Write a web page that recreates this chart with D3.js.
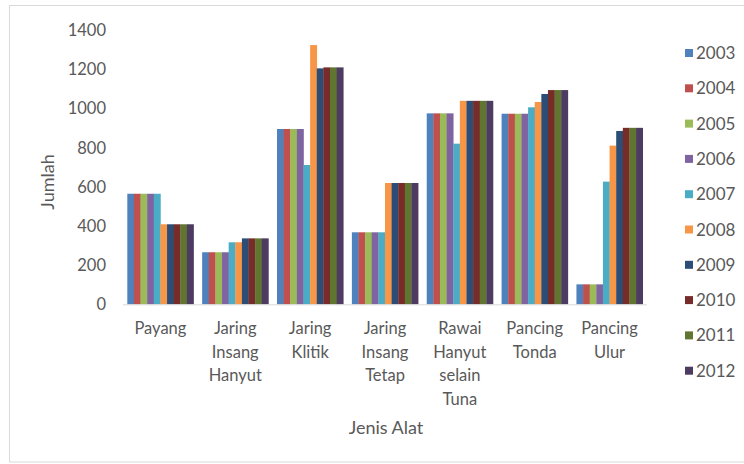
<!DOCTYPE html>
<html>
<head>
<meta charset="utf-8">
<script src="https://cdn.jsdelivr.net/npm/d3@7"></script>
<style>
  html, body { margin: 0; padding: 0; background: #fff; }
  svg { display: block; }
  text { font-family: Lato, "Open Sans", sans-serif; fill: #595959; }
</style>
</head>
<body>
<svg id="chart" width="744" height="464"></svg>
<script>
// Fishing gear types (categories), one line per array entry
const categories = [
  ["Payang"],
  ["Jaring", "Insang", "Hanyut"],
  ["Jaring", "Klitik"],
  ["Jaring", "Insang", "Tetap"],
  ["Rawai", "Hanyut", "selain", "Tuna"],
  ["Pancing", "Tonda"],
  ["Pancing", "Ulur"]
];

const years = ["2003", "2004", "2005", "2006", "2007", "2008", "2009", "2010", "2011", "2012"];

// Values per year, one entry per gear type (same order as categories)
const v2003 = [565, 266, 896, 368, 976, 974, 102];
const v2004 = [565, 266, 896, 368, 976, 974, 102];
const v2005 = [565, 266, 896, 368, 976, 974, 102];
const v2006 = [565, 266, 896, 368, 976, 974, 102];
const v2007 = [565, 317, 712, 368, 821, 1007, 627];
const v2008 = [409, 317, 1325, 620, 1040, 1034, 811];
const v2009 = [409, 337, 1206, 620, 1040, 1075, 886];
const v2010 = [409, 337, 1211, 620, 1040, 1095, 902];
const v2011 = [409, 337, 1211, 620, 1040, 1095, 902];
const v2012 = [409, 337, 1211, 620, 1040, 1095, 902];
const seriesValues = [v2003, v2004, v2005, v2006, v2007, v2008, v2009, v2010, v2011, v2012];

const yTicks = [0, 200, 400, 600, 800, 1000, 1200, 1400];

const colors = ["#4F81BD", "#C0504D", "#9BBB59", "#8064A2", "#4BACC6",
                "#F79646", "#2C4D75", "#772C2A", "#5F7530", "#4D3B62"];

const svg = d3.select("#chart");

// Outer chart frame
svg.append("rect")
  .attr("x", 9.5).attr("y", 5.5)
  .attr("width", 740).attr("height", 456.5)
  .attr("fill", "none").attr("stroke", "#d9d9d9").attr("stroke-width", 1);

const plot = { left: 123, right: 647, top: 30.4, bottom: 304.3 };

const x0 = d3.scaleBand()
  .domain(d3.range(categories.length))
  .range([plot.left, plot.right])
  .paddingInner(0.115)
  .paddingOuter(0.0575);

const x1 = d3.scaleBand()
  .domain(d3.range(years.length))
  .range([0, x0.bandwidth()]);

const y = d3.scaleLinear()
  .domain([0, 1400])
  .range([plot.bottom, plot.top]);

// Bars
const groups = svg.append("g")
  .selectAll("g")
  .data(categories.map((c, i) => i))
  .join("g")
  .attr("transform", i => `translate(${x0(i)},0)`);

groups.selectAll("rect")
  .data(i => seriesValues.map((s, k) => ({ k, v: s[i] })))
  .join("rect")
  .attr("x", d => x1(d.k))
  .attr("width", x1.bandwidth() + 0.3)
  .attr("y", d => y(d.v))
  .attr("height", d => y(0) - y(d.v))
  .attr("fill", d => colors[d.k]);

// Y axis (labels only)
const yAxis = d3.axisLeft(y).tickValues(yTicks).tickFormat(d3.format("d"))
  .tickSize(0).tickPadding(0);
const yg = svg.append("g")
  .attr("transform", `translate(${plot.left - 17},0)`)
  .call(yAxis);
yg.select(".domain").remove();
yg.selectAll("text")
  .style("font-size", "16.5px")
  .style("fill", "#595959")
  .style("font-family", "Lato, sans-serif");

// X axis baseline
svg.append("line")
  .attr("x1", plot.left).attr("x2", plot.right)
  .attr("y1", plot.bottom + 0.5).attr("y2", plot.bottom + 0.5)
  .attr("stroke", "#d9d9d9").attr("stroke-width", 1);

// Category labels (multi-line)
const catLabels = svg.append("g")
  .selectAll("text")
  .data(categories.map((c, i) => ({ lines: c, i })))
  .join("text")
  .attr("text-anchor", "middle")
  .style("font-size", "16.5px")
  .attr("x", d => x0(d.i) + x0.bandwidth() / 2)
  .attr("y", 334);

catLabels.selectAll("tspan")
  .data(d => d.lines.map(l => ({ l, x: x0(d.i) + x0.bandwidth() / 2 })))
  .join("tspan")
  .attr("x", d => d.x)
  .attr("dy", (d, j) => j === 0 ? 0 : 23.5)
  .text(d => d.l);

// Axis titles
svg.append("text")
  .attr("x", 386).attr("y", 434)
  .attr("text-anchor", "middle")
  .style("font-size", "18px")
  .text("Jenis Alat");

svg.append("text")
  .attr("transform", "translate(54,182) rotate(-90)")
  .attr("text-anchor", "middle")
  .style("font-size", "18px")
  .text("Jumlah");

// Legend
const legend = svg.append("g")
  .selectAll("g")
  .data(years.map((yv, k) => ({ yv, k })))
  .join("g")
  .attr("transform", d => `translate(685,${53 + d.k * 35.3})`);

legend.append("rect")
  .attr("x", 0).attr("y", -4)
  .attr("width", 8).attr("height", 8)
  .attr("fill", d => colors[d.k]);

legend.append("text")
  .attr("x", 11).attr("y", 6)
  .style("font-size", "17px")
  .text(d => d.yv);
</script>
</body>
</html>
